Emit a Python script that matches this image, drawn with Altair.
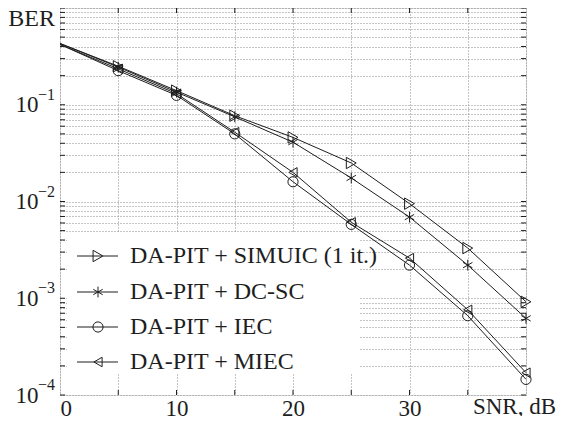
import altair as alt
import pandas as pd

# ---- data ----
snr = [0, 5, 10, 15, 20, 25, 30, 35, 40]
names = ["DA-PIT + SIMUIC (1 it.)", "DA-PIT + DC-SC", "DA-PIT + IEC", "DA-PIT + MIEC"]
ber_simuic = [0.43, 0.25, 0.14, 0.077, 0.046, 0.025, 0.0095, 0.0033, 0.00092]
ber_dcsc = [0.43, 0.245, 0.135, 0.075, 0.041, 0.0175, 0.0069, 0.0022, 0.00062]
ber_iec = [0.42, 0.225, 0.125, 0.050, 0.016, 0.0058, 0.0022, 0.00066, 0.000145]
ber_miec = [0.42, 0.235, 0.130, 0.052, 0.020, 0.0061, 0.0026, 0.00076, 0.00017]
x_ticks = [0, 5, 10, 15, 20, 25, 30, 35, 40]
decades = [-4, -3, -2, -1]
y_ticks = [m * 10.0 ** e for e in decades for m in range(1, 10)] + [1.0]

series = [ber_simuic, ber_dcsc, ber_iec, ber_miec]
star = "M0,-1L0,1M-0.87,-0.5L0.87,0.5M-0.87,0.5L0.87,-0.5"
shapes = ["triangle-right", star, "circle", "triangle-left"]
sizes = [130, 90, 150, 130]

rows = []
for n, vals in zip(names, series):
    for s, v in zip(snr, vals):
        rows.append({"snr": s, "ber": v, "series": n})
df = pd.DataFrame(rows)

W, H = 466, 387
FONT = "Times New Roman, Liberation Serif, Times, serif"
INK = "#1e1e1e"

xs = alt.Scale(domain=[0, 40], nice=False, zero=False)
ys = alt.Scale(type="log", domain=[1e-4, 1], nice=False)

x_axis = alt.Axis(
    values=x_ticks, grid=True, gridDash=[1, 2], gridColor="#8a8a8a", gridWidth=1,
    ticks=False, domain=False, title=None,
    labelExpr="datum.value % 10 == 0 && datum.value < 40 ? datum.label : ''",
    labelFont=FONT, labelFontSize=23, labelColor=INK, labelPadding=20,
    labelBaseline="alphabetic", labelFlush=True,
)
y_axis = alt.Axis(
    values=y_ticks, grid=True, gridDash=[1, 2], gridColor="#8a8a8a", gridWidth=1,
    ticks=False, domain=False, title=None,
    labelExpr="(abs(log(datum.value)/LN10 - round(log(datum.value)/LN10)) < 1e-6 && datum.value < 0.5) ? '10' : ''",
    labelFont=FONT, labelFontSize=23, labelColor=INK, labelPadding=22,
)

base = alt.Chart(df)
lines = base.mark_line(color=INK, strokeWidth=1).encode(
    x=alt.X("snr:Q", scale=xs, axis=x_axis),
    y=alt.Y("ber:Q", scale=ys, axis=y_axis),
    detail="series:N",
)
points = base.transform_filter("datum.snr > 0").mark_point(
    filled=False, color=INK, strokeWidth=1, opacity=1
).encode(
    x=alt.X("snr:Q", scale=xs),
    y=alt.Y("ber:Q", scale=ys),
    shape=alt.Shape("series:N", scale=alt.Scale(domain=names, range=shapes), legend=None),
    size=alt.Size("series:N", scale=alt.Scale(domain=names, range=sizes), legend=None),
)

# inside ticks (MATLAB style) on all four sides
yt = pd.DataFrame({"v": y_ticks})
xt = pd.DataFrame({"v": x_ticks[1:-1]})
tick_left = alt.Chart(yt).mark_rule(color=INK, strokeWidth=1).encode(
    y=alt.Y("v:Q", scale=ys), x=alt.value(0), x2=alt.value(5))
tick_right = alt.Chart(yt).mark_rule(color=INK, strokeWidth=1).encode(
    y=alt.Y("v:Q", scale=ys), x=alt.value(W - 5), x2=alt.value(W))
tick_bottom = alt.Chart(xt).mark_rule(color=INK, strokeWidth=1).encode(
    x=alt.X("v:Q", scale=xs), y=alt.value(H - 5), y2=alt.value(H))
tick_top = alt.Chart(xt).mark_rule(color=INK, strokeWidth=1).encode(
    x=alt.X("v:Q", scale=xs), y=alt.value(0), y2=alt.value(5))

# exponents of the y tick labels
exp_df = pd.DataFrame({"v": [10.0 ** e for e in decades], "t": ["\u2212%d" % (-e) for e in decades]})
exps = alt.Chart(exp_df).mark_text(
    align="right", baseline="middle", font=FONT, fontSize=16, color=INK, dy=-10
).encode(y=alt.Y("v:Q", scale=ys), x=alt.value(-5), text="t:N")

ber_lbl = alt.Chart(pd.DataFrame({"t": ["BER"]})).mark_text(
    align="right", baseline="middle", font=FONT, fontSize=24, color=INK
).encode(x=alt.value(-5), y=alt.value(11), text="t:N")
snr_lbl = alt.Chart(pd.DataFrame({"t": ["SNR, dB"]})).mark_text(
    align="right", baseline="alphabetic", font=FONT, fontSize=23, color=INK
).encode(x=alt.value(496), y=alt.value(406), text="t:N")

# legend box
leg_bg = alt.Chart(pd.DataFrame({"a": [0]})).mark_rect(fill="white").encode(
    x=alt.value(7), x2=alt.value(300), y=alt.value(224), y2=alt.value(365))
leg_layers = [leg_bg]
leg_y = [248, 284, 319, 354]
for i, n in enumerate(names):
    d = pd.DataFrame({"series": [n]})
    yy = leg_y[i]
    leg_layers.append(alt.Chart(d).mark_rule(color=INK, strokeWidth=1).encode(
        x=alt.value(17), x2=alt.value(58), y=alt.value(yy)))
    leg_layers.append(alt.Chart(d).mark_point(filled=False, color=INK, strokeWidth=1, opacity=1).encode(
        x=alt.value(38), y=alt.value(yy),
        shape=alt.Shape("series:N", scale=alt.Scale(domain=names, range=shapes), legend=None),
        size=alt.Size("series:N", scale=alt.Scale(domain=names, range=sizes), legend=None)))
    leg_layers.append(alt.Chart(d).mark_text(
        align="left", baseline="middle", font=FONT, fontSize=24, color=INK).encode(
        x=alt.value(70), y=alt.value(yy), text="series:N"))

chart = alt.layer(
    lines, points, tick_left, tick_right, tick_bottom, tick_top, exps, ber_lbl, snr_lbl, *leg_layers
).properties(
    width=W, height=H,
    autosize=alt.AutoSizeParams(type="none"),
    padding={"left": 52, "top": 0, "right": 30, "bottom": 21},
).configure_view(stroke="#111", strokeWidth=1.2).configure(background="white")

chart.save("out.html", embed_options={"renderer": "svg", "actions": False})
